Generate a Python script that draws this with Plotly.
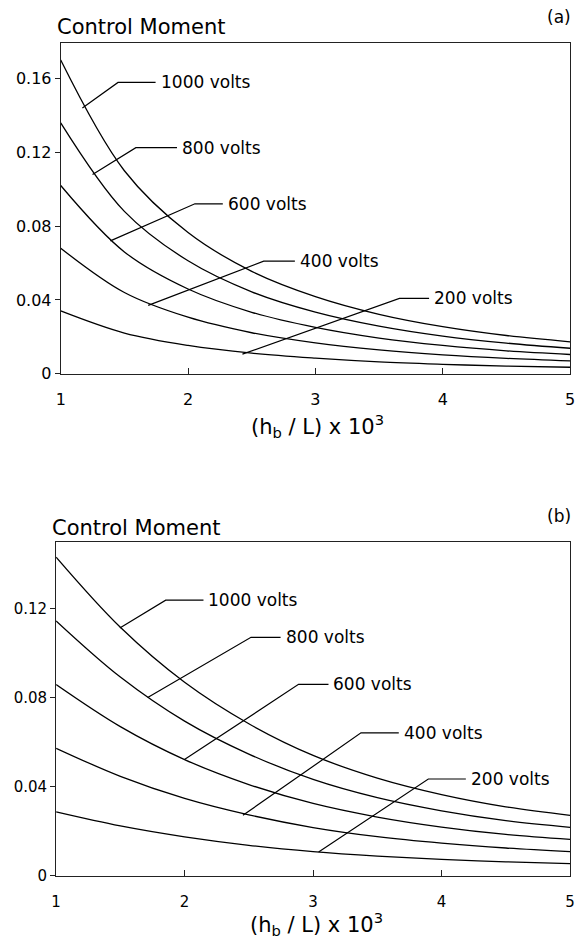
import plotly.graph_objects as go

# ---------------- data ----------------
x_vals = [1, 1.5, 2, 2.5, 3, 3.5, 4, 4.5, 5]
volt_labels = ["1000 volts", "800 volts", "600 volts", "400 volts", "200 volts"]

# panel (a)
a_1000 = [0.170, 0.110, 0.0765, 0.0555, 0.0418, 0.0322, 0.0255, 0.0207, 0.0173]
a_800 = [0.136, 0.0880, 0.0612, 0.0444, 0.0334, 0.0258, 0.0204, 0.0166, 0.0138]
a_600 = [0.102, 0.0660, 0.0459, 0.0333, 0.0251, 0.0193, 0.0153, 0.0124, 0.0104]
a_400 = [0.068, 0.0440, 0.0306, 0.0222, 0.0167, 0.0129, 0.0102, 0.0083, 0.0069]
a_200 = [0.034, 0.0220, 0.0153, 0.0111, 0.0084, 0.0064, 0.0051, 0.0041, 0.0035]

# panel (b)
b_1000 = [0.143, 0.1115, 0.0868, 0.0682, 0.0540, 0.0438, 0.0364, 0.0309, 0.0271]
b_800 = [0.1144, 0.0892, 0.0694, 0.0546, 0.0432, 0.0350, 0.0291, 0.0247, 0.0217]
b_600 = [0.0858, 0.0669, 0.0521, 0.0409, 0.0324, 0.0263, 0.0218, 0.0185, 0.0163]
b_400 = [0.0572, 0.0446, 0.0347, 0.0273, 0.0216, 0.0175, 0.0146, 0.0124, 0.0108]
b_200 = [0.0286, 0.0223, 0.0174, 0.0136, 0.0108, 0.0088, 0.0073, 0.0062, 0.0054]

# leader lines: (x on curve, y on curve), (x bend, y bend), x end of horizontal
a_lead_start = [(1.17, 0.1440), (1.25, 0.1080), (1.39, 0.0720), (1.687, 0.0370), (2.427, 0.0106)]
a_lead_bend = [(1.45, 0.1579), (1.59, 0.1225), (2.054, 0.0921), (2.594, 0.0610), (3.66, 0.0408)]
a_lead_end = [1.745, 1.913, 2.273, 2.839, 3.893]

b_lead_start = [(1.496, 0.1112), (1.713, 0.0800), (1.999, 0.0521), (2.454, 0.0271), (3.043, 0.0106)]
b_lead_bend = [(1.853, 0.1237), (2.517, 0.1070), (2.887, 0.0859), (3.373, 0.0641), (3.897, 0.0434)]
b_lead_end = [2.147, 2.747, 3.12, 3.667, 4.189]

a_yticks = [0, 0.04, 0.08, 0.12, 0.16]
b_yticks = [0, 0.04, 0.08, 0.12]
x_ticks = [1, 2, 3, 4, 5]

FONT = "DejaVu Sans"
W, H = 578, 944

fig = go.Figure()

def add_panel(series, lead_s, lead_b, lead_e, xa, ya):
    for ys in series:
        fig.add_trace(go.Scatter(x=x_vals, y=ys, mode="lines",
                                 line=dict(color="black", width=1.3, shape="spline", smoothing=1.0),
                                 xaxis=xa, yaxis=ya, showlegend=False, hoverinfo="skip"))
    for (s, b, e, lab) in zip(lead_s, lead_b, lead_e, volt_labels):
        fig.add_trace(go.Scatter(x=[s[0], b[0], e], y=[s[1], b[1], b[1]], mode="lines",
                                 line=dict(color="black", width=1.2),
                                 xaxis=xa, yaxis=ya, showlegend=False, hoverinfo="skip"))
        fig.add_annotation(x=e, y=b[1], xref=xa, yref=ya, text=lab, showarrow=False,
                           xanchor="left", yanchor="middle", xshift=3,
                           font=dict(family=FONT, size=17, color="black"))

add_panel([a_1000, a_800, a_600, a_400, a_200], a_lead_start, a_lead_bend, a_lead_end, "x", "y")
add_panel([b_1000, b_800, b_600, b_400, b_200], b_lead_start, b_lead_bend, b_lead_end, "x2", "y2")

def py(px):
    return 1 - px / H

axis_common = dict(showline=True, linecolor="#222", linewidth=1, mirror=True,
                   showgrid=False, zeroline=False)

fig.update_layout(
    width=W, height=H, margin=dict(l=0, r=0, t=0, b=0),
    paper_bgcolor="white", plot_bgcolor="white",
    font=dict(family=FONT, color="black"),
    xaxis=dict(domain=[56.7 / W, 575 / W], range=[1, 5], anchor="y",
               tickvals=x_ticks, ticks="inside", ticklen=6, tickcolor="#222",
               tickfont=dict(size=16), ticklabelstandoff=11, ticklabeloverflow="allow",
               **axis_common),
    yaxis=dict(domain=[py(377.7), py(43)], range=[0, 0.1795], anchor="x",
               tickvals=a_yticks, ticktext=["0", "0.04", "0.08", "0.12", "0.16"],
               ticks="outside", ticklen=5, tickcolor="#222", tickfont=dict(size=16),
               ticklabeloverflow="allow", **axis_common),
    xaxis2=dict(domain=[52 / W, 575 / W], range=[1, 5], anchor="y2",
                tickvals=x_ticks, ticks="inside", ticklen=6, tickcolor="#222",
                tickfont=dict(size=15), ticklabelstandoff=12, ticklabeloverflow="allow",
                **axis_common),
    yaxis2=dict(domain=[py(885), py(548.3)], range=[0, 0.1496], anchor="x2",
                tickvals=b_yticks, ticktext=["0", "0.04", "0.08", "0.12"],
                ticks="outside", ticklen=5, tickcolor="#222", tickfont=dict(size=15),
                ticklabeloverflow="allow", **axis_common),
)

title_x = "(h<sub>b</sub> / L) x 10<sup>3</sup>"
fig.add_annotation(x=51 / W, y=py(27), xref="paper", yref="paper", text="Control Moment",
                   showarrow=False, xanchor="left", yanchor="middle", font=dict(size=21))
fig.add_annotation(x=578 / W, y=py(17), xref="paper", yref="paper", text="(a)",
                   showarrow=False, xanchor="right", yanchor="middle", font=dict(size=17))
fig.add_annotation(x=318 / W, y=py(431), xref="paper", yref="paper", text=title_x,
                   showarrow=False, xanchor="center", yanchor="middle", font=dict(size=21))

fig.add_annotation(x=46 / W, y=py(534), xref="paper", yref="paper", text="Control Moment",
                   showarrow=False, xanchor="left", yanchor="middle", font=dict(size=21))
fig.add_annotation(x=578 / W, y=py(521.7), xref="paper", yref="paper", text="(b)",
                   showarrow=False, xanchor="right", yanchor="middle", font=dict(size=17))
fig.add_annotation(x=317 / W, y=py(934), xref="paper", yref="paper", text=title_x,
                   showarrow=False, xanchor="center", yanchor="middle", font=dict(size=21))

fig.write_html("out.html")
